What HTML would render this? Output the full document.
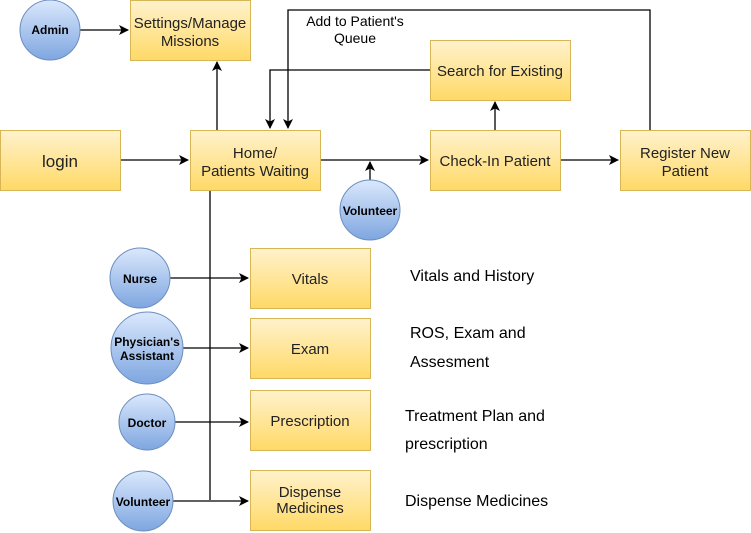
<!DOCTYPE html>
<html><head><style>body{margin:0;background:#fff}svg{display:block}</style></head><body>
<svg width="751" height="533" xmlns="http://www.w3.org/2000/svg" font-family="Liberation Sans, sans-serif">
<defs>
<linearGradient id="y" x1="0" y1="0" x2="0" y2="1"><stop offset="0" stop-color="#fff2cc"/><stop offset="1" stop-color="#ffd966"/></linearGradient>
<linearGradient id="b" x1="0" y1="0" x2="0" y2="1"><stop offset="0" stop-color="#dae8fc"/><stop offset="1" stop-color="#7ea6e0"/></linearGradient>
<marker id="a" markerWidth="12" markerHeight="12" refX="9" refY="5" orient="auto" markerUnits="userSpaceOnUse"><path d="M0,0 L10,5 L0,10 L2.5,5 z" fill="#000"/></marker>
</defs>
<g fill="none" stroke="#000" stroke-width="1.3">
<path d="M80,30 H128" marker-end="url(#a)"/>
<path d="M120,160 H188" marker-end="url(#a)"/>
<path d="M217,130 V62" marker-end="url(#a)"/>
<path d="M320,160 H428" marker-end="url(#a)"/>
<path d="M370,180 V162" marker-end="url(#a)"/>
<path d="M560,160 H618" marker-end="url(#a)"/>
<path d="M495,130 V102" marker-end="url(#a)"/>
<path d="M430,70 H270 V128" marker-end="url(#a)"/>
<path d="M650,130 V10 H288 V128" marker-end="url(#a)"/>
<path d="M210,190 V500"/>
<path d="M170,278 H248" marker-end="url(#a)"/>
<path d="M183,348 H248" marker-end="url(#a)"/>
<path d="M175,422 H248" marker-end="url(#a)"/>
<path d="M173,501 H248" marker-end="url(#a)"/>
</g>
<g fill="url(#y)" stroke="#d6b656">
<rect x="130.5" y="0.5" width="120" height="60"/>
<rect x="0.5" y="130.5" width="120" height="60"/>
<rect x="190.5" y="130.5" width="130" height="60"/>
<rect x="430.5" y="40.5" width="140" height="60"/>
<rect x="430.5" y="130.5" width="130" height="60"/>
<rect x="620.5" y="130.5" width="130" height="60"/>
<rect x="250.5" y="248.5" width="120" height="60"/>
<rect x="250.5" y="318.5" width="120" height="60"/>
<rect x="250.5" y="390.5" width="120" height="60"/>
<rect x="250.5" y="470.5" width="120" height="60"/>
</g>
<g fill="url(#b)" stroke="#6c8ebf">
<circle cx="50" cy="30" r="30"/>
<circle cx="370" cy="210" r="30"/>
<circle cx="140" cy="278" r="30"/>
<circle cx="147" cy="348" r="36"/>
<circle cx="147" cy="422" r="28"/>
<circle cx="143" cy="501" r="30"/>
</g>
<g font-size="12" font-weight="bold" text-anchor="middle" fill="#000">
<text x="50" y="34">Admin</text>
<text x="370" y="215">Volunteer</text>
<text x="140" y="283">Nurse</text>
<text x="147" y="346">Physician's</text>
<text x="147" y="360">Assistant</text>
<text x="147" y="427">Doctor</text>
<text x="143" y="506">Volunteer</text>
</g>
<g font-size="15" text-anchor="middle" fill="#222">
<text x="190" y="28">Settings/Manage</text>
<text x="190" y="46">Missions</text>
<text x="60" y="167" font-size="17">login</text>
<text x="255" y="158">Home/</text>
<text x="255" y="176">Patients Waiting</text>
<text x="500" y="76">Search for Existing</text>
<text x="495" y="166">Check-In Patient</text>
<text x="685" y="158">Register New</text>
<text x="685" y="176">Patient</text>
<text x="310" y="284">Vitals</text>
<text x="310" y="354">Exam</text>
<text x="310" y="426">Prescription</text>
<text x="310" y="497">Dispense</text>
<text x="310" y="513">Medicines</text>
</g>
<g font-size="14" text-anchor="middle" fill="#000">
<text x="355" y="26">Add to Patient's</text>
<text x="355" y="43">Queue</text>
</g>
<g font-size="16" fill="#000">
<text x="410" y="281">Vitals and History</text>
<text x="410" y="338">ROS, Exam and</text>
<text x="410" y="367">Assesment</text>
<text x="405" y="421">Treatment Plan and</text>
<text x="405" y="449">prescription</text>
<text x="405" y="506">Dispense Medicines</text>
</g>
</svg>
</body></html>
